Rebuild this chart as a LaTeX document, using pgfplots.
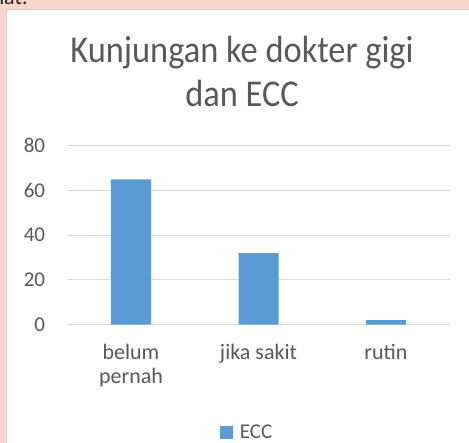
\documentclass[border=0pt]{standalone}
\usepackage{pgfplots}
\pgfplotsset{compat=1.18}
\usepackage{fontspec}
\setmainfont{Carlito}
\definecolor{bgpink}{RGB}{251,214,204}
\definecolor{txt}{RGB}{89,89,89}
\definecolor{barblue}{RGB}{91,155,213}
\definecolor{gridgray}{RGB}{217,217,217}
\definecolor{bordergray}{RGB}{210,210,210}
\begin{document}
\begin{tikzpicture}
\useasboundingbox (0pt,0pt) rectangle (469pt,443pt);
\clip (0pt,0pt) rectangle (469pt,443pt);
\fill[bgpink] (0pt,0pt) rectangle (469pt,443pt);
\fill[bordergray] (6pt,0pt) rectangle (470pt,434pt);
\fill[white] (7pt,0pt) rectangle (470pt,433pt);
\node[anchor=base east, inner sep=0pt, font=\fontsize{22}{26}\selectfont, text=black!85] at (28pt,438pt) {hat:};
\node[anchor=base, inner sep=0pt, yscale=1.1, font=\fontsize{34.4}{40}\selectfont, text=txt] at (242pt,380.7pt) {Kunjungan ke dokter gigi};
\node[anchor=base, inner sep=0pt, yscale=1.1, font=\fontsize{34.4}{40}\selectfont, text=txt] at (242pt,336.3pt) {dan ECC};
\begin{axis}[
  at={(67.25pt,118.3pt)}, anchor=south west,
  scale only axis, width=382.5pt, height=179pt,
  xmin=-0.5, xmax=2.5, ymin=0, ymax=80,
  ybar, bar width=40pt,
  axis line style={draw=none},
  major tick length=0pt,
  ytick={0,20,40,60,80},
  xtick={0,1,2},
  xticklabels={belum\\pernah, jika sakit, rutin},
  ymajorgrids, major grid style={draw=gridgray, line width=1pt},
  /pgf/number format/assume math mode=true,
  yticklabel style={anchor=east, inner sep=0pt, xshift=-22pt, font=\fontsize{21}{24}\selectfont, text=txt},
  xticklabel style={anchor=north, inner sep=0pt, yshift=-19pt, align=center, font=\fontsize{22}{24}\selectfont, text=txt},
  legend style={at={(0.472,-0.602)}, anchor=center, draw=none, fill=none, inner sep=0pt,
    font=\fontsize{21}{24}\selectfont, text=txt, nodes={inner sep=3pt},
    /tikz/every odd column/.style={column sep=4pt}},
  legend image code/.code={\fill[barblue] (0pt,-6.35pt) rectangle (12.7pt,6.35pt);},
]
\addplot[fill=barblue, draw=none] coordinates {(0,65) (1,32) (2,2)};
\addlegendentry{ECC}
\end{axis}
\end{tikzpicture}
\end{document}
